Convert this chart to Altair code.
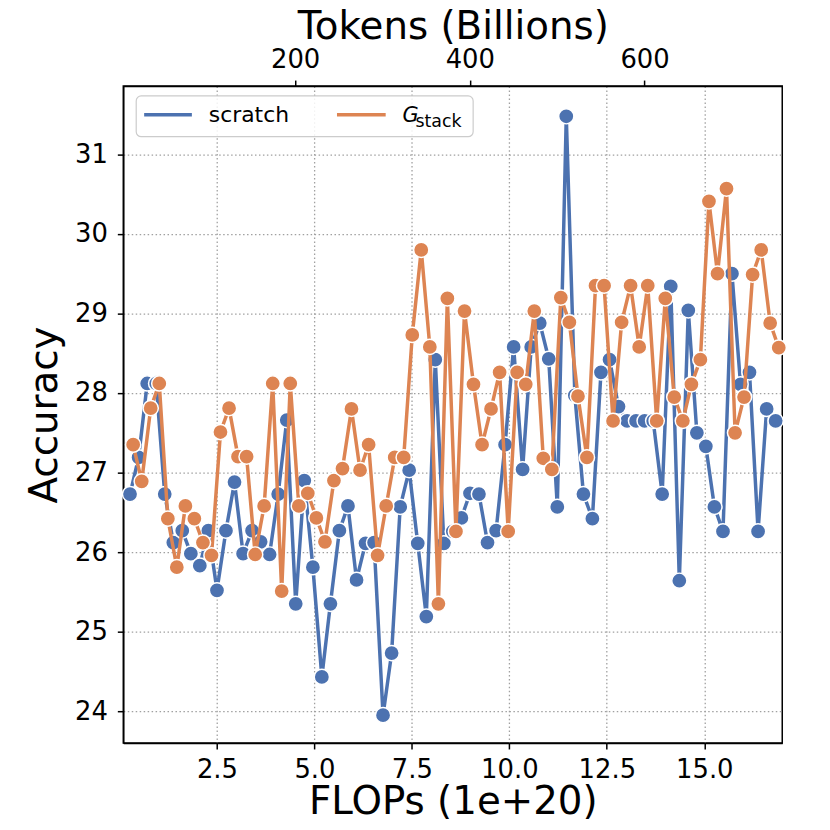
import altair as alt
import pandas as pd

BLUE = "#4C72B0"
ORANGE = "#DD8452"
FONT = "DejaVu Sans"

tokens = [10, 20, 30, 40, 50, 60, 70, 80, 90, 100, 110, 120, 130, 140, 150,
          160, 170, 180, 190, 200, 210, 220, 230, 240, 250, 260, 270, 280, 290, 300,
          310, 320, 330, 340, 350, 360, 370, 380, 390, 400, 410, 420, 430, 440, 450,
          460, 470, 480, 490, 500, 510, 520, 530, 540, 550, 560, 570, 580, 590, 600,
          610, 620, 630, 640, 650, 660, 670, 680, 690, 700, 710, 720, 730, 740, 750]

scratch_flops = [0.27, 0.49, 0.71, 0.94, 1.16, 1.38, 1.61, 1.83, 2.06, 2.28,
                 2.50, 2.73, 2.95, 3.17, 3.40, 3.62, 3.85, 4.07, 4.29, 4.52,
                 4.74, 4.96, 5.19, 5.41, 5.64, 5.86, 6.08, 6.31, 6.53, 6.76,
                 6.98, 7.20, 7.43, 7.65, 7.87, 8.10, 8.32, 8.55, 8.77, 8.99,
                 9.22, 9.44, 9.66, 9.89, 10.11, 10.34, 10.56, 10.78, 11.01, 11.23,
                 11.46, 11.68, 11.90, 12.13, 12.35, 12.57, 12.80, 13.02, 13.25, 13.47,
                 13.69, 13.92, 14.14, 14.36, 14.59, 14.81, 15.04, 15.26, 15.48, 15.71,
                 15.93, 16.16, 16.38, 16.60, 16.83]
scratch_acc = [26.73, 27.19, 28.12, 28.12, 26.73, 26.12, 26.27, 25.98, 25.83, 26.27,
               25.52, 26.27, 26.88, 25.98, 26.27, 26.13, 25.97, 26.73, 27.66, 25.35,
               26.90, 25.81, 24.43, 25.35, 26.27, 26.58, 25.65, 26.11, 26.12, 23.95,
               24.73, 26.57, 27.03, 26.11, 25.19, 28.42, 26.11, 26.26, 26.43, 26.74,
               26.73, 26.12, 26.27, 27.35, 28.58, 27.04, 28.58, 28.88, 28.43, 26.57,
               31.48, 27.97, 26.73, 26.42, 28.26, 28.42, 27.83, 27.65, 27.65, 27.65,
               27.65, 26.73, 29.34, 25.64, 29.04, 27.50, 27.33, 26.57, 26.26, 29.50,
               28.11, 28.26, 26.26, 27.80, 27.65]

gstack_flops = [0.35, 0.57, 0.80, 1.02, 1.24, 1.47, 1.69, 1.92, 2.14, 2.36,
                2.59, 2.81, 3.04, 3.26, 3.48, 3.71, 3.93, 4.16, 4.38, 4.60,
                4.83, 5.05, 5.27, 5.50, 5.72, 5.95, 6.17, 6.39, 6.62, 6.84,
                7.06, 7.29, 7.51, 7.74, 7.96, 8.18, 8.41, 8.63, 8.85, 9.08,
                9.30, 9.53, 9.75, 9.97, 10.20, 10.42, 10.64, 10.87, 11.09, 11.32,
                11.54, 11.76, 11.99, 12.21, 12.43, 12.66, 12.88, 13.11, 13.33, 13.55,
                13.78, 14.00, 14.23, 14.45, 14.67, 14.90, 15.12, 15.34, 15.57, 15.79,
                16.02, 16.24, 16.46, 16.69, 16.91]
gstack_acc = [27.35, 26.89, 27.81, 28.12, 26.42, 25.81, 26.58, 26.42, 26.12, 25.96,
              27.51, 27.81, 27.20, 27.20, 25.97, 26.58, 28.12, 25.51, 28.12, 26.58,
              26.74, 26.43, 26.13, 26.90, 27.05, 27.80, 27.03, 27.35, 25.96, 26.58,
              27.19, 27.19, 28.73, 29.80, 28.58, 25.35, 29.19, 26.26, 29.03, 28.11,
              27.35, 27.80, 28.26, 26.26, 28.26, 28.11, 29.03, 27.18, 27.04, 29.20,
              28.89, 27.96, 27.19, 29.35, 29.35, 27.65, 28.89, 29.35, 28.58, 29.35,
              27.65, 29.19, 27.95, 27.65, 28.11, 28.42, 30.41, 29.50, 30.57, 27.50,
              27.95, 29.49, 29.80, 28.88, 28.57]

x_ticks = [2.5, 5.0, 7.5, 10.0, 12.5, 15.0]
y_ticks = [24, 25, 26, 27, 28, 29, 30, 31]
token_ticks = [200, 400, 600]

df_s = pd.DataFrame({"flops": scratch_flops, "acc": scratch_acc, "tokens": tokens})
df_g = pd.DataFrame({"flops": gstack_flops, "acc": gstack_acc})
one = pd.DataFrame({"k": [0]})

xscale = alt.Scale(domain=[0.097, 17.0], nice=False, zero=False)
yscale = alt.Scale(domain=[23.6, 31.86], nice=False, zero=False)

common = dict(labelFont=FONT, titleFont=FONT, labelFontSize=26, titleFontSize=39,
              titleFontWeight="normal", labelColor="black", titleColor="black",
              tickSize=6, tickWidth=1.5, tickColor="black",
              domainColor="black", domainWidth=1.5)
grid = dict(grid=True, gridColor="#a0a0a0", gridDash=[1.5, 2.5], gridWidth=1.3)

xaxis = alt.Axis(values=x_ticks, format=".1f", title="FLOPs (1e+20)",
                 labelPadding=8, titlePadding=0, **common, **grid)
yaxis = alt.Axis(values=y_ticks, format="d", title="Accuracy",
                 labelPadding=10, titlePadding=10, **common, **grid)

def series(df, color):
    enc = dict(x=alt.X("flops:Q", scale=xscale, axis=xaxis),
               y=alt.Y("acc:Q", scale=yscale, axis=yaxis))
    line = alt.Chart(df).mark_line(color=color, strokeWidth=3.5).encode(**enc)
    pts = alt.Chart(df).mark_circle(color=color, size=235, opacity=1,
                                    stroke="white", strokeWidth=1.5).encode(**enc)
    return [line, pts]

# legend (drawn as marks so the subscript can be real text)
leg_box = alt.Chart(one).mark_rect(fill="white", fillOpacity=0.85, stroke="#cccccc",
                                   strokeWidth=1.2, cornerRadius=5).encode(
    x=alt.value(13), x2=alt.value(352), y=alt.value(10), y2=alt.value(51))
leg_l1 = alt.Chart(one).mark_rule(color=BLUE, strokeWidth=3.5).encode(
    x=alt.value(21), x2=alt.value(69), y=alt.value(29))
leg_l2 = alt.Chart(one).mark_rule(color=ORANGE, strokeWidth=3.5).encode(
    x=alt.value(215), x2=alt.value(264), y=alt.value(29))
leg_t1 = alt.Chart(one).mark_text(text="scratch", font=FONT, fontSize=22, align="left",
                                  baseline="alphabetic", color="black").encode(
    x=alt.value(86), y=alt.value(36))
leg_t2 = alt.Chart(one).mark_text(text="G", font=FONT, fontSize=21, fontStyle="italic",
                                  align="left", baseline="alphabetic", color="black").encode(
    x=alt.value(281), y=alt.value(36))
leg_t3 = alt.Chart(one).mark_text(text="stack", font=FONT, fontSize=17.5, align="left",
                                  baseline="alphabetic", color="black").encode(
    x=alt.value(294), y=alt.value(41))

inner = alt.layer(*series(df_s, BLUE), *series(df_g, ORANGE),
                  leg_box, leg_l1, leg_l2, leg_t1, leg_t2, leg_t3)

top = alt.Chart(df_s).mark_point(opacity=0).encode(
    x=alt.X("tokens:Q", scale=alt.Scale(domain=[3.3, 757.6], nice=False, zero=False),
            axis=alt.Axis(orient="top", values=token_ticks, format="d",
                          title="Tokens (Billions)", grid=False, labelPadding=8,
                          titlePadding=0, **common)))

chart = alt.layer(inner, top).resolve_scale(x="independent").properties(
    width=663, height=661,
    autosize=alt.AutoSizeParams(type="none"),
    padding={"left": 116, "top": 76, "right": 40, "bottom": 80},
).configure_view(stroke="black", strokeWidth=1.5)

chart.save("out.html", embed_options={"renderer": "svg", "actions": False})
